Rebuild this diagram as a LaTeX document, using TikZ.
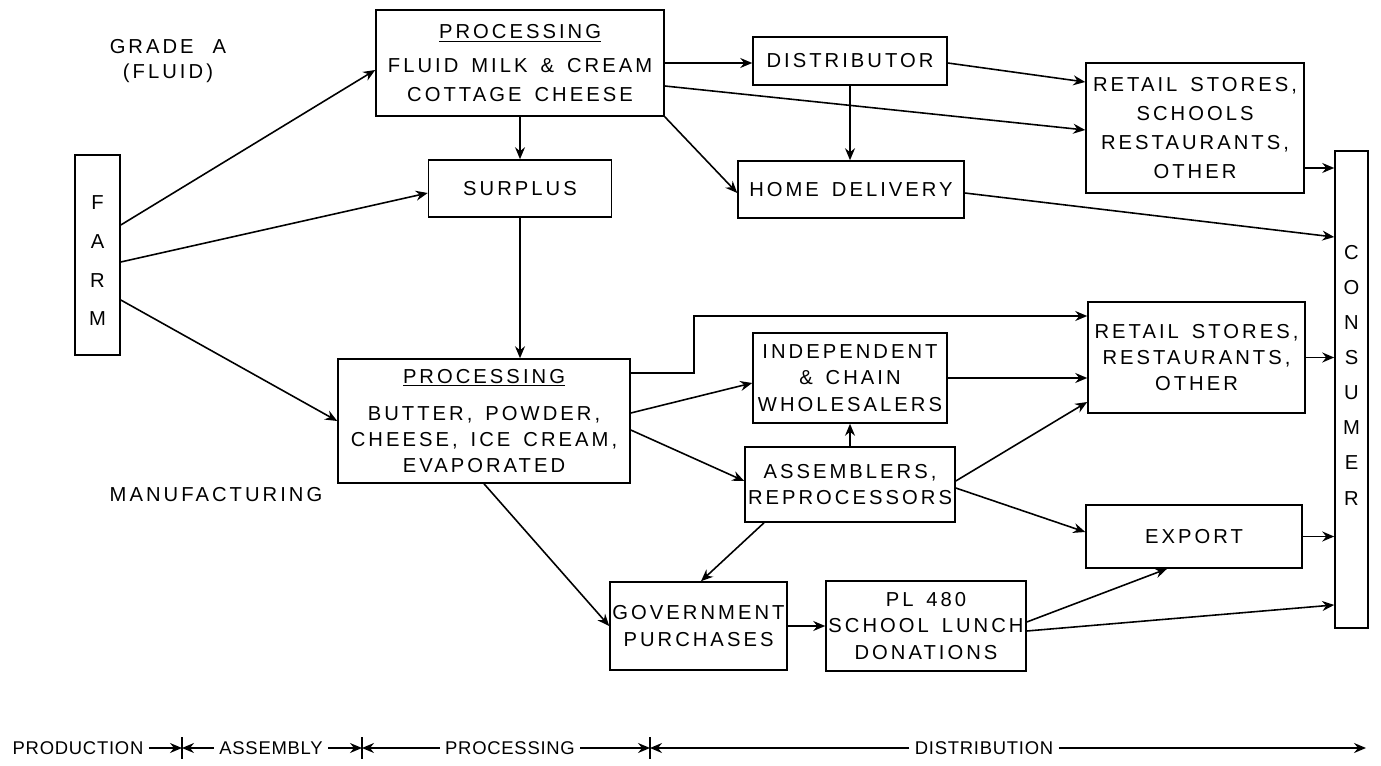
\documentclass[tikz,border=0pt]{standalone}
\usepackage{fontspec}
\setmainfont{Liberation Sans}[LetterSpace=15, WordSpace=1.5]
\usetikzlibrary{arrows.meta}
\tikzstyle{box}=[draw, line width=0.9pt, inner sep=0pt, align=center, font=\fontsize{11.5}{15}\selectfont]
\tikzstyle{tallbox}=[box, font=\fontsize{11.5}{16.5}\selectfont]
\tikzstyle{lbl}=[align=center, inner sep=2pt, font=\fontsize{11.5}{14.5}\selectfont]
\tikzstyle{stage}=[inner sep=3pt, font=\fontsize{10.5}{12}\selectfont\addfontfeatures{LetterSpace=4}]
\tikzstyle{arrow}=[line width=0.9pt, >={Stealth[length=2.4mm, width=2mm, inset=0.8mm]}]

\begin{document}
\begin{tikzpicture}[x=0.02cm, y=-0.02cm]
	\useasboundingbox (0,0) rectangle (1381,766);
	\begin{scope}
		\node (farm) at (97.5,255)[box, minimum width=0.9cm, minimum height=4cm] {};
		\node (farmtext) at (97.5,261)[lbl, font=\fontsize{11.5}{22}\selectfont] {F\\A\\R\\M};
		\node (grade) at (168,61)[lbl] {GRADE\hspace{0.3em} A\\(FLUID)};
		\node (manuf) at (216,495)[lbl] {MANUFACTURING};
		\node (proc1) at (520,63)[tallbox, minimum width=5.76cm, minimum height=2.12cm] {\underline{PROCESSING}\\[3pt]FLUID MILK \& CREAM\\COTTAGE CHEESE};
		\node (surplus) at (520,188.5)[box, minimum width=3.66cm, minimum height=1.14cm] {SURPLUS};
		\node (distrib) at (850,61)[box, minimum width=3.88cm, minimum height=0.96cm] {DISTRIBUTOR};
		\node (home) at (851,189.5)[box, minimum width=4.52cm, minimum height=1.14cm] {HOME DELIVERY};
		\node (retail1) at (1195,128)[tallbox, minimum width=4.36cm, minimum height=2.6cm] {RETAIL STORES,\\SCHOOLS\\RESTAURANTS,\\OTHER};
		\node (consumer) at (1351.5,389.5)[box, minimum width=0.66cm, minimum height=9.54cm] {};
		\node (consumertext) at (1351.5,375)[lbl, font=\fontsize{11.5}{20}\selectfont] {C\\O\\N\\S\\U\\M\\E\\R};
		\node (proc2) at (484,421)[box, minimum width=5.84cm, minimum height=2.48cm] {\underline{PROCESSING}\\[6pt]BUTTER, POWDER,\\CHEESE, ICE CREAM,\\EVAPORATED};
		\node (indep) at (850,378)[box, minimum width=3.88cm, minimum height=1.8cm] {INDEPENDENT\\\& CHAIN\\WHOLESALERS};
		\node (assem) at (850,484.5)[box, minimum width=4.2cm, minimum height=1.5cm] {ASSEMBLERS,\\REPROCESSORS};
		\node (retail2) at (1196.5,357.5)[box, minimum width=4.34cm, minimum height=2.22cm] {RETAIL STORES,\\RESTAURANTS,\\OTHER};
		\node (export) at (1194,536.5)[box, minimum width=4.32cm, minimum height=1.26cm] {EXPORT};
		\node (gov) at (698.5,626)[box, minimum width=3.54cm, minimum height=1.76cm] {GOVERNMENT\\PURCHASES};
		\node (pl480) at (926,626)[box, minimum width=4cm, minimum height=1.8cm] {PL 480\\SCHOOL LUNCH\\DONATIONS};
		% stages along the bottom
		\node (production) at (78,748)[stage] {PRODUCTION};
		\node (assembly) at (271,748)[stage] {ASSEMBLY};
		\node (processing) at (510,748)[stage] {PROCESSING};
		\node (distribution) at (984,748)[stage] {DISTRIBUTION};
		\coordinate (b1) at (182,748);
		\coordinate (b2) at (362,748);
		\coordinate (b3) at (650,748);
		\coordinate (dend) at (1366,748);
		\coordinate (p2out) at ([yshift=0.96cm]proc2.east);
		\coordinate (r2in) at ([yshift=0.83cm]retail2.west);
		\coordinate (r1out) at ([yshift=-0.8cm]retail1.east);
	\end{scope}
	\begin{scope}
		\path [arrow, ->] ([yshift=0.6cm]farm.east) edge ([yshift=-0.14cm]proc1.west);
		\path [arrow, ->] ([yshift=-0.14cm]farm.east) edge ([yshift=-0.09cm]surplus.west);
		\path [arrow, ->] ([yshift=-0.9cm]farm.east) edge (proc2.west);
		\path [arrow, ->] (proc1) edge (surplus);
		\path [arrow, ->] (surplus.south) edge (surplus.south |- proc2.north);
		\path [arrow, ->] (proc1.east) edge (proc1.east -| distrib.west);
		\path [arrow, ->] ([yshift=-0.46cm]proc1.east) edge ([yshift=-0.04cm]retail1.west);
		\path [arrow, ->] (proc1.south east) edge ([yshift=-0.07cm]home.west);
		\path [arrow, ->] ([yshift=-0.04cm]distrib.east) edge ([yshift=0.92cm]retail1.west);
		\path [arrow, ->] (distrib.south) edge (distrib.south |- home.north);
		\path [arrow, ->] ([yshift=-0.07cm]home.east) edge ([yshift=3.05cm]consumer.west);
		\path [arrow, ->] (r1out) edge (r1out -| consumer.west);
		\draw [arrow, ->] (p2out) -- ++(63,0) |- (r2in);
		\path [arrow, ->] ([yshift=0.16cm]proc2.east) edge ([yshift=-0.1cm]indep.west);
		\path [arrow, ->] ([yshift=-0.18cm]proc2.east) edge ([yshift=0.07cm]assem.west);
		\path [arrow, ->] (proc2.south) edge (gov.west);
		\path [arrow, ->] (indep.east) edge (indep.east -| retail2.west);
		\path [arrow, ->] (assem.north) edge (indep.south);
		\path [arrow, ->] ([yshift=0.07cm]assem.east) edge ([yshift=-0.89cm]retail2.west);
		\path [arrow, ->] ([yshift=-0.07cm]assem.east) edge ([yshift=0.09cm]export.west);
		\path [arrow, ->] ([xshift=-1.72cm]assem.south) edge ([xshift=0.05cm]gov.north);
		\path [arrow, ->] (gov) edge (pl480);
		\path [arrow, ->] ([yshift=0.08cm]pl480.east) edge ([xshift=-0.54cm]export.south);
		\path [arrow, ->] ([yshift=-0.1cm]pl480.east) edge ([yshift=-4.31cm]consumer.west);
		\path [arrow, ->] (retail2.east) edge (retail2.east -| consumer.west);
		\path [arrow, ->] (export.east) edge (export.east -| consumer.west);
		% stage markers
		\draw [line width=0.9pt] ([yshift=0.22cm]b1) -- ([yshift=-0.22cm]b1);
		\draw [line width=0.9pt] ([yshift=0.22cm]b2) -- ([yshift=-0.22cm]b2);
		\draw [line width=0.9pt] ([yshift=0.22cm]b3) -- ([yshift=-0.22cm]b3);
		\path [arrow, ->] (production) edge (b1);
		\path [arrow, ->] (assembly) edge (b1);
		\path [arrow, ->] (assembly) edge (b2);
		\path [arrow, ->] (processing) edge (b2);
		\path [arrow, ->] (processing) edge (b3);
		\path [arrow, ->] (distribution) edge (b3);
		\path [arrow, ->] (distribution) edge (dend);
	\end{scope}
\end{tikzpicture}
\end{document}
